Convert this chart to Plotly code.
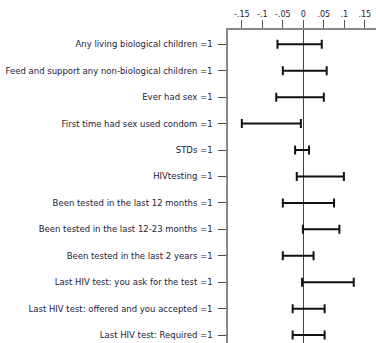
import plotly.graph_objects as go

labels = [
    "Any living biological children =1",
    "Feed and support any non-biological children =1",
    "Ever had sex =1",
    "First time had sex used condom =1",
    "STDs =1",
    "HIVtesting =1",
    "Been tested in the last 12 months =1",
    "Been tested in the last 12-23 months =1",
    "Been tested in the last 2 years =1",
    "Last HIV test: you ask for the test =1",
    "Last HIV test: offered and you accepted =1",
    "Last HIV test: Required =1",
]
ci_low = [-0.063, -0.050, -0.066, -0.150, -0.020, -0.016, -0.050, -0.001, -0.050, -0.003, -0.026, -0.026]
ci_high = [0.045, 0.057, 0.050, -0.006, 0.014, 0.099, 0.075, 0.088, 0.025, 0.123, 0.052, 0.052]
tick_vals = [-0.15, -0.1, -0.05, 0, 0.05, 0.1, 0.15]
tick_text = ["-.15", "-.1", "-.05", "0", ".05", ".1", ".15"]

pos = list(range(1, len(labels) + 1))
mid = [(a + b) / 2 for a, b in zip(ci_low, ci_high)]
half = [(b - a) / 2 for a, b in zip(ci_low, ci_high)]

fig = go.Figure()
fig.add_trace(go.Scatter(
    x=mid, y=pos, mode="markers",
    marker=dict(size=1, color="rgba(0,0,0,0)"),
    error_x=dict(type="data", array=half, symmetric=True,
                 color="#111111", thickness=2, width=4.5),
    showlegend=False, hoverinfo="skip",
))

fig.update_layout(
    width=376, height=343,
    margin=dict(l=228, r=0, t=30, b=0),
    paper_bgcolor="white", plot_bgcolor="white",
    font=dict(family="DejaVu Sans, Verdana, sans-serif", color="#22223a", size=8.5),
    xaxis=dict(
        side="top", range=[-0.1837, 0.1773],
        tickvals=tick_vals, ticktext=tick_text,
        ticks="outside", ticklen=8, tickcolor="#555555", tickwidth=1,
        showline=True, linecolor="#888888", linewidth=1.5,
        showgrid=False, zeroline=True, zerolinecolor="#444444", zerolinewidth=1,
        tickfont=dict(size=8), mirror=False,
    ),
    yaxis=dict(
        range=[12.30, 0.46],
        tickvals=pos, ticktext=labels,
        ticks="outside", ticklen=8, tickcolor="#444444", tickwidth=1,
        showline=True, linecolor="#888888", linewidth=1.5,
        showgrid=False, zeroline=False,
        tickfont=dict(size=8.5), ticklabelstandoff=4,
    ),
)

fig.write_html(
    "out.html",
    config={"displayModeBar": False},
    post_script="document.body.style.margin='0';document.body.style.overflow='hidden';",
)
